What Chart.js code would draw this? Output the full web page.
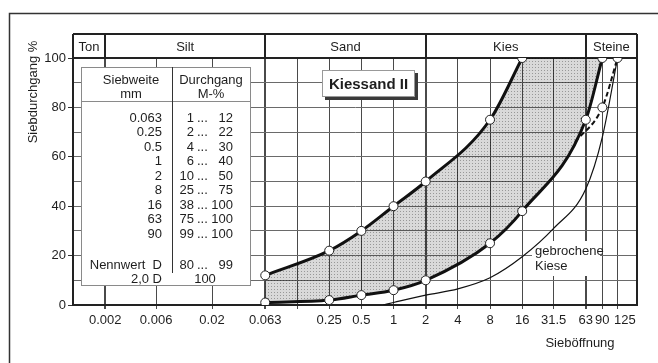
<!DOCTYPE html>
<html>
<head>
<meta charset="utf-8">
<script src="https://cdn.jsdelivr.net/npm/chart.js@4/dist/chart.umd.min.js"></script>
<style>
  html, body { margin: 0; padding: 0; background: #fff; }
  #wrap { width: 658px; height: 363px; }
</style>
</head>
<body>
<div id="wrap"><canvas id="c" width="658" height="363"></canvas></div>
<script>
// Sieve sizes (mm) shown on the x axis and their labels
const sieveTicks = [0.002, 0.006, 0.02, 0.063, 0.125, 0.25, 0.5, 1, 2, 4, 8, 16, 31.5, 63, 90, 125];
const sieveTickLabels = ['0.002', '0.006', '0.02', '0.063', '', '0.25', '0.5', '1', '2', '4', '8', '16', '31.5', '63', '90', '125'];

// Soil classes and the grain sizes separating them
const soilClasses = ['Ton', 'Silt', 'Sand', 'Kies', 'Steine'];
const soilBounds = [0.002, 0.063, 2, 63];

// Upper limit of the grading envelope
const upperSieve = [0.063, 0.25, 0.5, 1, 2, 8, 16];
const upperPass = [12, 22, 30, 40, 50, 75, 100];

// Lower limit of the grading envelope
const lowerSieve = [0.063, 0.25, 0.5, 1, 2, 8, 16, 63, 90];
const lowerPass = [1, 2, 4, 6, 10, 25, 38, 75, 100];

// Lower limit for the nominal size D (dashed)
const nominalSieve = [50, 90, 125];
const nominalPass = [66, 80, 100];

// Curve for crushed gravel ("gebrochene Kiese")
const crushedSieve = [0.8, 1, 2, 4, 8, 16, 31.5, 63, 90, 125];
const crushedPass = [0, 1, 4, 6.5, 11, 19.5, 31, 47, 68, 100];

// Table of sieve sizes and passing ranges
const tableSieve = ['0.063', '0.25', '0.5', '1', '2', '8', '16', '63', '90'];
const tableMin = ['1', '2', '4', '6', '10', '25', '38', '75', '99'];
const tableMax = ['12', '22', '30', '40', '50', '75', '100', '100', '100'];

const FONT = '"Liberation Sans", Arial, sans-serif';
const INK = '#1e1e1e';

const pts = (xs, ys) => xs.map((x, i) => ({ x: x, y: ys[i] }));

// Fine stipple for the envelope area
function stipple() {
  const c = document.createElement('canvas');
  c.width = 3; c.height = 3;
  const g = c.getContext('2d');
  g.fillStyle = 'rgba(0,0,0,0.15)';
  g.fillRect(0, 0, 3, 3);
  g.fillStyle = 'rgba(0,0,0,0.30)';
  g.fillRect(1, 1, 1, 1);
  return g.createPattern(c, 'repeat');
}
const shade = stipple();

const pointStyle = {
  pointRadius: 4.5,
  pointBackgroundColor: '#fff',
  pointBorderColor: '#222',
  pointBorderWidth: 1,
  pointHoverRadius: 4.5
};

const decor = {
  id: 'decor',
  beforeDraw(chart) {
    const ctx = chart.ctx;
    ctx.save();
    ctx.fillStyle = '#fff';
    ctx.fillRect(0, 0, chart.width, chart.height);
    // outer frame
    ctx.strokeStyle = '#333';
    ctx.lineWidth = 1.5;
    ctx.strokeRect(9.5, 13.5, 700, 400);
    ctx.restore();
  },
  beforeDatasetsDraw(chart) {
    const ctx = chart.ctx;
    const a = chart.chartArea;
    ctx.save();

    // inset table
    const tx = 81, ty = 67, tw = 169, th = 218, colX = 172;
    ctx.fillStyle = '#fff';
    ctx.fillRect(tx, ty, tw, th);
    ctx.strokeStyle = '#8a8a8a';
    ctx.lineWidth = 1;
    ctx.strokeRect(tx + 0.5, ty + 0.5, tw, th);
    ctx.beginPath();
    ctx.moveTo(tx, 101.5); ctx.lineTo(tx + tw, 101.5);
    ctx.stroke();
    ctx.strokeStyle = '#333';
    ctx.beginPath();
    ctx.moveTo(colX + 0.5, ty); ctx.lineTo(colX + 0.5, 273);
    ctx.stroke();

    ctx.fillStyle = INK;
    ctx.font = '13px ' + FONT;
    ctx.textBaseline = 'middle';
    ctx.textAlign = 'center';
    ctx.fillText('Siebweite', 131, 80);
    ctx.fillText('mm', 131, 94);
    ctx.fillText('Durchgang', 211, 80);
    ctx.fillText('M-%', 211, 94);
    const rowY0 = 118, rowH = 14.5;
    tableSieve.forEach((s, i) => {
      const y = rowY0 + i * rowH;
      ctx.textAlign = 'right';
      ctx.fillText(s, 162, y);
      ctx.fillText(tableMin[i], 194, y);
      ctx.fillText(tableMax[i], 233, y);
      ctx.textAlign = 'left';
      ctx.fillText('...', 197, y);
    });
    ctx.textAlign = 'right';
    ctx.fillText('Nennwert  D', 162, 265);
    ctx.fillText('2,0 D', 162, 279);
    ctx.fillText('80', 194, 265);
    ctx.fillText('99', 233, 265);
    ctx.textAlign = 'left';
    ctx.fillText('...', 197, 265);
    ctx.textAlign = 'center';
    ctx.fillText('100', 205, 279);

    // title box with shadow
    const bx = 322, by = 70, bw = 93, bh = 27;
    ctx.fillStyle = '#3a3a3a';
    ctx.fillRect(bx + 3, by + 3, bw, bh);
    ctx.fillStyle = '#fff';
    ctx.fillRect(bx, by, bw, bh);
    ctx.strokeStyle = '#999';
    ctx.strokeRect(bx + 0.5, by + 0.5, bw - 1, bh - 1);
    ctx.fillStyle = INK;
    ctx.font = 'bold 15px ' + FONT;
    ctx.fillText('Kiessand II', bx + bw / 2, by + bh / 2 + 1);

    // label for the crushed gravel curve
    ctx.fillStyle = '#fff';
    ctx.fillRect(532, 241, 68, 35);
    ctx.fillStyle = INK;
    ctx.font = '13px ' + FONT;
    ctx.textAlign = 'left';
    ctx.fillText('gebrochene', 535, 251);
    ctx.fillText('Kiese', 535, 266);

    // plot frame
    ctx.strokeStyle = '#222';
    ctx.lineWidth = 2;
    ctx.strokeRect(a.left, a.top, a.right - a.left, a.bottom - a.top);
    ctx.restore();
  },
  afterDraw(chart) {
    const ctx = chart.ctx;
    const a = chart.chartArea;
    const xs = chart.scales.x;
    ctx.save();

    // soil class header band
    const top = 34;
    ctx.strokeStyle = '#222';
    ctx.lineWidth = 2;
    ctx.beginPath();
    ctx.moveTo(a.left, top); ctx.lineTo(a.right, top);
    ctx.moveTo(a.left, top); ctx.lineTo(a.left, a.top);
    ctx.moveTo(a.right, top); ctx.lineTo(a.right, a.top);
    const edges = [a.left].concat(soilBounds.map(v => xs.getPixelForValue(v))).concat([a.right]);
    soilBounds.forEach(v => {
      const px = Math.round(xs.getPixelForValue(v));
      ctx.moveTo(px, top); ctx.lineTo(px, a.top);
    });
    ctx.stroke();
    ctx.fillStyle = INK;
    ctx.font = '13px ' + FONT;
    ctx.textAlign = 'center';
    ctx.textBaseline = 'middle';
    soilClasses.forEach((name, i) => {
      ctx.fillText(name, (edges[i] + edges[i + 1]) / 2, (top + a.top) / 2 + 1);
    });

    // axis titles
    ctx.save();
    ctx.translate(33, 92);
    ctx.rotate(-Math.PI / 2);
    ctx.fillText('Siebdurchgang %', 0, 0);
    ctx.restore();
    ctx.fillText('Sieböffnung', 580, 343);
    ctx.restore();
  }
};

const thick = new Set(soilBounds);

new Chart(document.getElementById('c'), {
  type: 'line',
  data: {
    datasets: [
      Object.assign({
        label: 'obere Grenze',
        data: pts(upperSieve, upperPass),
        borderColor: '#111',
        borderWidth: 3,
        backgroundColor: shade,
        fill: { target: 1 },
        cubicInterpolationMode: 'monotone',
        order: 2
      }, pointStyle),
      Object.assign({
        label: 'untere Grenze',
        data: pts(lowerSieve, lowerPass),
        borderColor: '#111',
        borderWidth: 3,
        fill: false,
        cubicInterpolationMode: 'monotone',
        order: 1
      }, pointStyle),
      {
        label: 'Fläche',
        data: pts([upperSieve[upperSieve.length - 1], lowerSieve[lowerSieve.length - 1]], [100, 100]),
        borderWidth: 0,
        borderColor: 'rgba(0,0,0,0)',
        backgroundColor: shade,
        pointRadius: 0,
        fill: { target: 1 },
        tension: 0,
        order: 6
      },
      Object.assign({
        label: 'Nennwert D',
        data: pts(nominalSieve, nominalPass),
        borderColor: '#111',
        borderWidth: 2,
        borderDash: [5, 3],
        fill: false,
        cubicInterpolationMode: 'monotone',
        order: 4
      }, pointStyle, { pointRadius: ctx => ctx.dataIndex === 0 ? 0 : 4.5 }),
      {
        label: 'gebrochene Kiese',
        data: pts(crushedSieve, crushedPass),
        borderColor: '#111',
        borderWidth: 1.2,
        pointRadius: 0,
        fill: false,
        cubicInterpolationMode: 'monotone',
        order: 5
      }
    ]
  },
  options: {
    responsive: false,
    animation: false,
    devicePixelRatio: 1,
    layout: { padding: { top: 58, right: 21, left: 0, bottom: 0 } },
    plugins: {
      legend: { display: false },
      tooltip: { enabled: false },
      filler: { propagate: false }
    },
    events: [],
    scales: {
      x: {
        type: 'logarithmic',
        min: 0.001,
        max: 190,
        afterBuildTicks: s => { s.ticks = sieveTicks.map(v => ({ value: v })); },
        afterFit: s => { s.height = 58; },
        ticks: {
          autoSkip: false,
          maxRotation: 0,
          padding: 4,
          color: INK,
          font: { family: FONT, size: 13 },
          callback: (v, i) => (i === sieveTicks.length - 1 ? '    ' : '') + sieveTickLabels[i]
        },
        grid: {
          color: '#4a4a4a',
          lineWidth: c => (c.tick && thick.has(c.tick.value)) ? 2 : 1,
          tickLength: 4,
          drawTicks: true
        },
        border: { display: true, color: '#222', width: 2 }
      },
      y: {
        type: 'linear',
        min: 0,
        max: 100,
        afterFit: s => { s.width = 73; },
        ticks: {
          stepSize: 10,
          padding: 2,
          color: INK,
          font: { family: FONT, size: 13 },
          callback: v => (v % 20 === 0 ? String(v) : '')
        },
        grid: {
          color: '#6a6a6a',
          lineWidth: 1,
          tickLength: 5,
          tickColor: c => (c.tick && c.tick.value % 20 === 0) ? '#333' : 'rgba(0,0,0,0)'
        },
        border: { display: true, color: '#222', width: 2 }
      }
    }
  },
  plugins: [decor]
});
</script>
</body>
</html>
